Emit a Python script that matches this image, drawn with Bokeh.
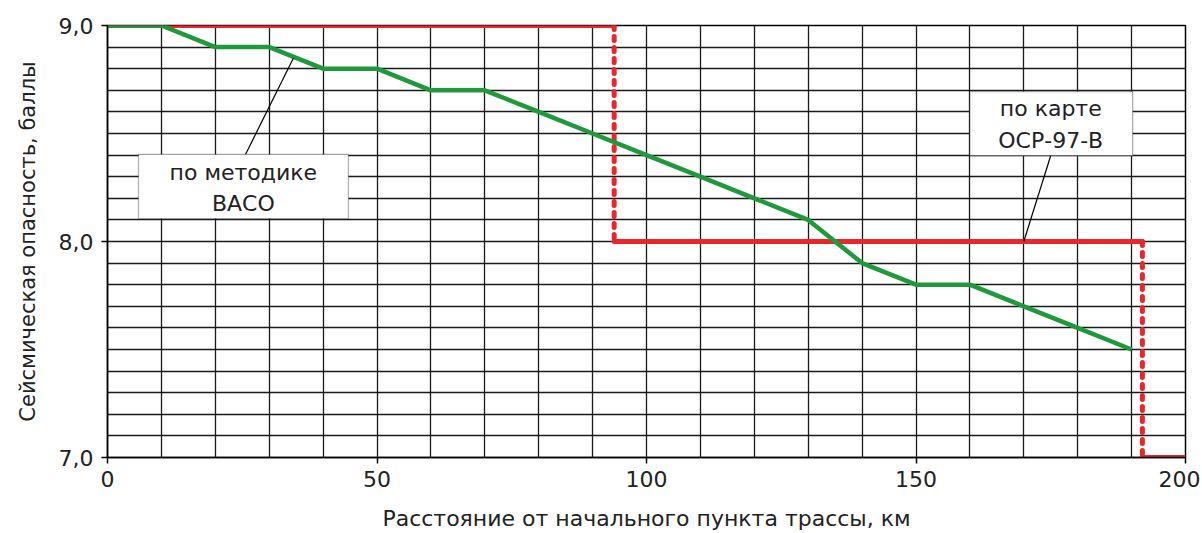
from bokeh.plotting import figure
from bokeh.models import FixedTicker, Range1d, BoxAnnotation, Label
from bokeh.embed import file_html
from bokeh.resources import INLINE

# ---- data ----
green_km = [0, 10, 20, 30, 40, 50, 60, 70, 80, 90, 100, 110, 120, 130, 140, 150, 160, 170, 180, 190]
green_score = [9.0, 9.0, 8.9, 8.9, 8.8, 8.8, 8.7, 8.7, 8.6, 8.5, 8.4, 8.3, 8.2, 8.1, 7.9, 7.8, 7.8, 7.7, 7.6, 7.5]

red_edges = [0, 94, 192, 200]
red_levels = [9.0, 8.0, 7.0]

x_ticks = [0, 50, 100, 150, 200]
y_ticks = [7.0, 8.0, 9.0]
y_tick_labels = {7.0: "7,0", 8.0: "8,0", 9.0: "9,0"}
x_grid = [0, 10, 20, 30, 40, 50, 60, 70, 80, 90, 100, 110, 120, 130, 140, 150, 160, 170, 180, 190, 200]
y_grid = [7.0, 7.1, 7.2, 7.3, 7.4, 7.5, 7.6, 7.7, 7.8, 7.9, 8.0, 8.1, 8.2, 8.3, 8.4, 8.5, 8.6, 8.7, 8.8, 8.9, 9.0]

x_label = "Расстояние от начального пункта трассы, км"
y_label = "Сейсмическая опасность, баллы"
note_green = ["по методике", "ВАСО"]
note_red = ["по карте", "ОСР-97-В"]

RED = "#E8262C"
GREEN = "#1E9A3C"
FONT = "DejaVu Sans"

p = figure(width=1200, height=533, output_backend="svg", toolbar_location=None,
           x_range=Range1d(0, 200), y_range=Range1d(7.0, 9.0),
           min_border_left=107, min_border_right=15, min_border_top=25, min_border_bottom=76)
p.background_fill_color = "white"
p.border_fill_color = "white"
p.outline_line_color = "black"
p.outline_line_width = 1.5

# grid
p.xgrid.ticker = FixedTicker(ticks=x_grid)
p.ygrid.ticker = FixedTicker(ticks=y_grid)
for g in (p.xgrid, p.ygrid):
    g.grid_line_color = "#1a1a1a"
    g.grid_line_width = 1.3
    g.grid_line_alpha = 1.0

# axes
p.xaxis.ticker = FixedTicker(ticks=x_ticks)
p.yaxis.ticker = FixedTicker(ticks=y_ticks)
p.yaxis.major_label_overrides = y_tick_labels
for ax in (p.xaxis, p.yaxis):
    ax.axis_line_color = "black"
    ax.axis_line_width = 1.5
    ax.major_tick_in = 0
    ax.major_tick_out = 6
    ax.major_tick_line_color = "black"
    ax.major_tick_line_width = 1.5
    ax.minor_tick_line_color = None
    ax.major_label_text_font = FONT
    ax.major_label_text_font_size = "22px"
    ax.major_label_text_color = "#222"
    ax.axis_label_text_font = FONT
    ax.axis_label_text_font_style = "normal"
    ax.axis_label_text_color = "#222"
p.xaxis.axis_label = x_label
p.yaxis.axis_label = y_label
p.xaxis.axis_label_text_font_size = "22px"
p.yaxis.axis_label_text_font_size = "21px"
p.xaxis.major_label_standoff = 7
p.xaxis.axis_label_standoff = 16
p.yaxis.major_label_standoff = 8
p.yaxis.axis_label_standoff = 16

# red line (map OSR-97-B): solid levels, dotted steps
p.segment(x0=red_edges[:-1], x1=red_edges[1:], y0=red_levels, y1=red_levels,
          line_color=RED, line_width=5, line_cap="round")
p.segment(x0=red_edges[1:-1], x1=red_edges[1:-1], y0=red_levels[:-1], y1=red_levels[1:],
          line_color=RED, line_width=5, line_dash="4 7", line_cap="round")

# green line (VASO method)
p.line(green_km, green_score, line_color=GREEN, line_width=4.5, line_join="round")

# annotation boxes
box1 = BoxAnnotation(left=5.75, right=44.7, top=8.403, bottom=8.106,
                     fill_color="white", fill_alpha=1.0, line_color="black", line_width=1.3)
box2 = BoxAnnotation(left=160.0, right=190.2, top=8.694, bottom=8.398,
                     fill_color="white", fill_alpha=1.0, line_color="black", line_width=1.3)
p.add_layout(box1)
p.add_layout(box2)

# leader lines
p.segment(x0=[25.6, 175.0], y0=[8.403, 8.398], x1=[34.5, 170.0], y1=[8.850, 8.0],
          line_color="black", line_width=1.2)

for (tx, ty, t) in [(25.2, 8.32, note_green[0]), (25.2, 8.178, note_green[1]),
                    (175.0, 8.616, note_red[0]), (175.0, 8.468, note_red[1])]:
    p.add_layout(Label(x=tx, y=ty, text=t, text_align="center", text_baseline="middle",
                       text_font=FONT, text_font_size="22px", text_color="#222"))

open("out.html", "w").write(file_html(p, INLINE))
